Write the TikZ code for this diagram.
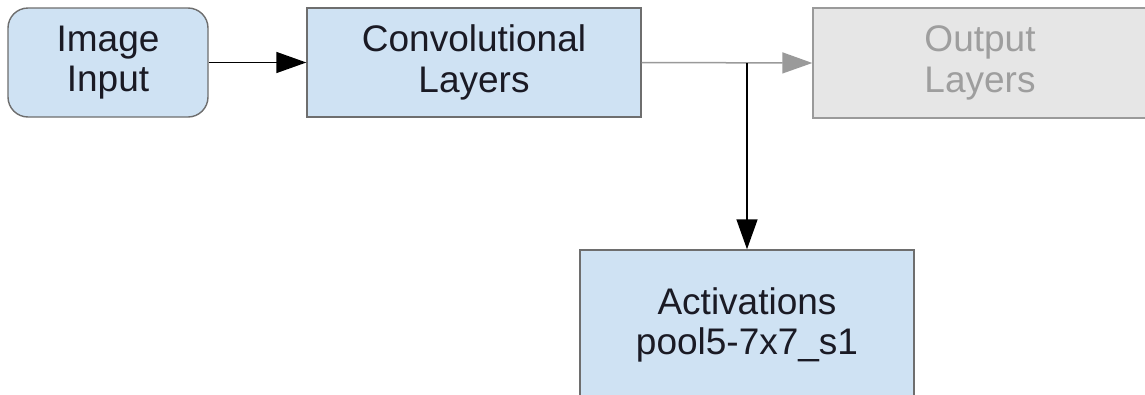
\documentclass[tikz,border=0pt]{standalone}
\usepackage{fontspec}
\setmainfont{Liberation Sans}
\usetikzlibrary{arrows.meta}
\definecolor{boxblue}{HTML}{CFE2F3}
\definecolor{boxedge}{HTML}{6E6E6E}
\definecolor{greyfill}{HTML}{E6E6E6}
\definecolor{greyedge}{HTML}{9A9A9A}
\definecolor{greytext}{HTML}{9E9E9E}
\definecolor{inktext}{HTML}{1A1A24}
\tikzset{
  blk/.style={draw=boxedge, fill=boxblue, line width=1.4pt, inner sep=0pt,
    align=center, text=inktext, font=\fontsize{37}{40.5}\selectfont},
  greyblk/.style={blk, draw=greyedge, fill=greyfill, text=greytext},
  arr/.style={line width=1.5pt, -{Triangle[length=30pt,width=21pt]}},
  greyarr/.style={arr, draw=greyedge, -{Triangle[length=30pt,width=21pt,fill=greyedge]}},
}
\begin{document}
\begin{tikzpicture}[x=1pt,y=-1pt]
\useasboundingbox (0,0) rectangle (1145,394);
\clip (0,0) rectangle (1145,394);
\fill[white] (0,0) rectangle (1145,394);
\node[blk, rounded corners=20pt, minimum width=200pt, minimum height=109pt] (img) at (108,62.5) {Image\\Input};
\node[blk, minimum width=334pt, minimum height=109pt] (conv) at (474,62.5) {Convolutional\\Layers};
\node[greyblk, minimum width=334pt, minimum height=110pt] (out) at (980,63) {Output\\Layers};
\node[blk, minimum width=334pt, minimum height=150pt] (act) at (747,325) {Activations\\pool5-7x7\_s1};
\coordinate (split) at (act.north |- conv.east);
\draw[arr] (img.east) -- (conv.west);
\draw[greyarr] (conv.east) -- (out.west);
\draw[arr] ([yshift=-0.8pt]split) -- (act.north);
\end{tikzpicture}
\end{document}
